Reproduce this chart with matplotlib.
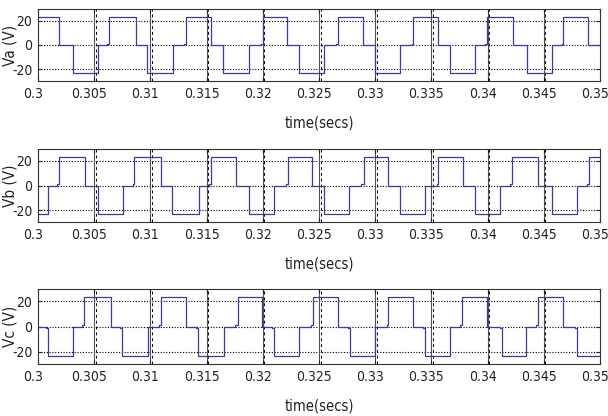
import matplotlib
matplotlib.use('Agg')
import matplotlib.pyplot as plt
from matplotlib import font_manager as fm
from matplotlib.transforms import ScaledTranslation

# шрифт: узкий, если есть
names = {f.name for f in fm.fontManager.ttflist}
if 'Liberation Sans Narrow' in names:
    plt.rcParams['font.family'] = ['Liberation Sans Narrow', 'DejaVu Sans']
else:
    plt.rcParams['font.family'] = ['DejaVu Sans']
    plt.rcParams['font.stretch'] = 'condensed'

# данные
H = 23.3   # амплитуда ступени
b = 1.2    # маленький выступ перед фронтом

x_tick_labels = ['0.3', '0.305', '0.31', '0.315', '0.32', '0.325',
                 '0.33', '0.335', '0.34', '0.345', '0.35']
y_ticks = [-20, 0, 20]
t_end = 0.35

va_t = [0.3000, 0.30190, 0.30309, 0.30531, 0.30617, 0.30634, 0.30872, 0.30967,
        0.31204, 0.31299, 0.31317, 0.31539, 0.31649, 0.31880, 0.31981, 0.31999,
        0.32218, 0.32322, 0.32545, 0.32651, 0.32672, 0.32894, 0.32998, 0.33221,
        0.33325, 0.33339, 0.33556, 0.33665, 0.33888, 0.33977, 0.33997, 0.34223,
        0.34348, 0.34570, 0.34659, 0.34674, 0.34896]
va_v = [H,
        0, -H, 0, b, H,
        0, -H, 0, b, H,
        0, -H, 0, b, H,
        0, -H, 0, b, H,
        0, -H, 0, b, H,
        0, -H, 0, b, H,
        0, -H, 0, b, H,
        0]

vb_t = [0.3000, 0.30086, 0.30165, 0.30190, 0.30414, 0.30533, 0.30755, 0.30841,
        0.30858, 0.31096, 0.31191, 0.31428, 0.31523, 0.31541, 0.31763, 0.31873,
        0.32104, 0.32205, 0.32223, 0.32442, 0.32546, 0.32769, 0.32875, 0.32896,
        0.33118, 0.33222, 0.33445, 0.33549, 0.33563, 0.33780, 0.33889, 0.34112,
        0.34201, 0.34221, 0.34447, 0.34572, 0.34794, 0.34883, 0.34898]
vb_v = [-H, 0, b, H,
        0, -H, 0, b, H,
        0, -H, 0, b, H,
        0, -H, 0, b, H,
        0, -H, 0, b, H,
        0, -H, 0, b, H,
        0, -H, 0, b, H,
        0, -H, 0, b, H]

vc_t = [0.3000, 0.30070, 0.30085, 0.30307, 0.30393, 0.30410, 0.30648, 0.30728,
        0.30743, 0.30980, 0.31075, 0.31093, 0.31315, 0.31410, 0.31425, 0.31656,
        0.31757, 0.31775, 0.31994, 0.32083, 0.32098, 0.32321, 0.32427, 0.32448,
        0.32670, 0.32759, 0.32774, 0.32997, 0.33101, 0.33115, 0.33332, 0.33426,
        0.33441, 0.33664, 0.33753, 0.33773, 0.33999, 0.34109, 0.34124, 0.34346,
        0.34435, 0.34450, 0.34672, 0.34782, 0.34797]
vc_v = [0, -b, -H, 0, b, H,
        0, -b, -H, 0, b, H,
        0, -b, -H, 0, b, H,
        0, -b, -H, 0, b, H,
        0, -b, -H, 0, b, H,
        0, -b, -H, 0, b, H,
        0, -b, -H, 0, b, H,
        0, -b, -H]

series = [(va_t, va_v, 'Va (V)'), (vb_t, vb_v, 'Vb (V)'), (vc_t, vc_v, 'Vc (V)')]

# положения осей в пикселях (верх, низ) на картинке 608x416
W, Hpx = 608, 416
boxes = [(9, 81), (149, 222), (289, 364)]

fig = plt.figure(figsize=(W / 100, Hpx / 100), dpi=100)
x_ticks = [float(s) for s in x_tick_labels]
line_color = '#3c3c98'
text_color = '#222222'

for (t, v, name), (top, bottom) in zip(series, boxes):
    ax = fig.add_axes([38 / W, 1 - bottom / Hpx, (600 - 38) / W, (bottom - top) / Hpx])
    ax.plot(t + [t_end], v + [v[-1]], drawstyle='steps-post', color=line_color, lw=0.9)
    ax.set_xlim(x_ticks[0], x_ticks[-1])
    ax.set_ylim(-29.5, 29.5)
    ax.set_xticks(x_ticks)
    ax.set_xticklabels([])
    ax.set_yticks(y_ticks)
    ax.set_yticklabels([str(y) for y in y_ticks])
    # подписи по оси x вручную: чуть левее делений, как в оригинале
    shift = ScaledTranslation(-5 / 100, -6 / 100, fig.dpi_scale_trans)
    for xt, lab in zip(x_ticks, x_tick_labels):
        ax.text(xt, 0, lab, transform=ax.get_xaxis_transform() + shift,
                ha='center', va='top', fontsize=10, color=text_color)
    # сетка: пунктир по горизонтали, по вертикали сплошная + штрих
    for y in y_ticks:
        ax.axhline(y, color='k', lw=0.8, ls=(0, (1, 1.5)), zorder=1)
    for xt in x_ticks[1:-1]:
        ax.axvline(xt, color='#505050', lw=0.8, zorder=1)
        ax.axvline(xt + 0.00015, color='k', lw=0.7, ls=(0, (3, 3)), zorder=1)
    ax.tick_params(direction='in', length=3, top=True, right=True,
                   labelsize=10, pad=4, colors=text_color)
    for s in ax.spines.values():
        s.set_color('#333333')
        s.set_linewidth(0.8)
    ax.set_xlabel('time(secs)', fontsize=10.5, color=text_color, va='center')
    ax.xaxis.set_label_coords(0.5, -42 / (bottom - top))
    ax.set_ylabel(name, fontsize=11, color=text_color, va='center')
    ax.yaxis.set_label_coords(-0.05, 0.5)

fig.savefig('out.png', dpi=100)
